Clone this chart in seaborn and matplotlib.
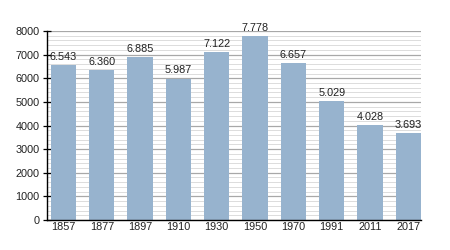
import matplotlib
matplotlib.use("Agg")
import matplotlib.pyplot as plt
from matplotlib.ticker import MultipleLocator
import seaborn as sns
import pandas as pd

years = ["1857", "1877", "1897", "1910", "1930", "1950", "1970", "1991", "2011", "2017"]
population = [6543, 6360, 6885, 5987, 7122, 7778, 6657, 5029, 4028, 3693]
labels = ["6.543", "6.360", "6.885", "5.987", "7.122", "7.778", "6.657", "5.029", "4.028", "3.693"]

df = pd.DataFrame({"year": years, "pop": population})

sns.set_style("white")
plt.rcParams["font.family"] = ["Liberation Sans", "DejaVu Sans"]

fig = plt.figure(figsize=(4.5, 2.5), dpi=100)
ax = fig.add_axes([47/450, 30/250, 374/450, 189/250])

ax.set_axisbelow(True)

sns.barplot(data=df, x="year", y="pop", color="#97b3ce", saturation=1, width=0.66,
            linewidth=0, edgecolor="none", ax=ax)
for p in ax.patches:
    p.set_zorder(3)
    p.set_linewidth(0)

for i, (v, t) in enumerate(zip(population, labels)):
    ax.text(i, v + 130, t, ha="center", va="bottom", fontsize=7.8, color="#222222", zorder=4)

ax.set_ylim(0, 8000)
ax.set_xlim(-0.43, 9.33)
ax.yaxis.set_major_locator(MultipleLocator(1000))
ax.yaxis.set_minor_locator(MultipleLocator(200))
ax.grid(which="major", axis="y", color="#a8a8a8", linewidth=0.9)
ax.grid(which="minor", axis="y", color="#dcdcdc", linewidth=0.7)
ax.set_axisbelow(True)
ax.set_xlabel("")
ax.set_ylabel("")
for s in ["top", "right"]:
    ax.spines[s].set_visible(False)
for s in ["left", "bottom"]:
    ax.spines[s].set_color("black")
    ax.spines[s].set_linewidth(1.0)
    ax.spines[s].set_zorder(5)
ax.tick_params(axis="y", which="major", length=6, width=0.9, direction="inout", labelsize=7.8, pad=2.5, colors="black", labelcolor="#222222")
ax.tick_params(axis="y", which="minor", length=2.2, width=0.6, direction="in", colors="black")
ax.tick_params(axis="x", length=0, labelsize=7.8, pad=1.5, labelcolor="#222222")
ax.tick_params(axis="y", left=True)

fig.savefig("out.png", dpi=100)
